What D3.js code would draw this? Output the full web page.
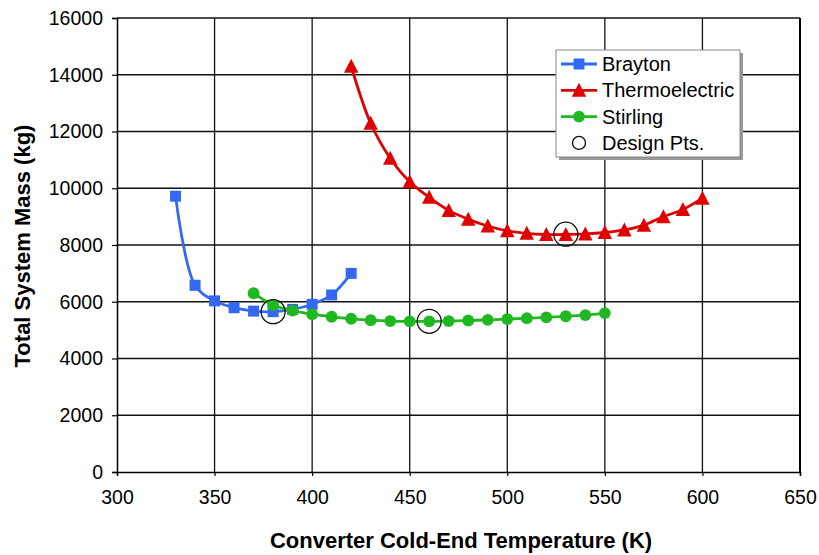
<!DOCTYPE html>
<html>
<head>
<meta charset="utf-8">
<script src="https://cdn.jsdelivr.net/npm/d3@7"></script>
<style>
  body { margin: 0; background: #fff; }
  text { font-family: "Liberation Sans", Arial, sans-serif; }
</style>
</head>
<body>
<svg width="819" height="555"></svg>
<script>
const braytonT = [330, 340, 350, 360, 370, 380, 390, 400, 410, 420];
const braytonM = [9720, 6580, 6030, 5790, 5670, 5650, 5730, 5910, 6240, 7000];

const thermoT = [420, 430, 440, 450, 460, 470, 480, 490, 500, 510, 520, 530, 540, 550, 560, 570, 580, 590, 600];
const thermoM = [14300, 12290, 11060, 10230, 9680, 9220, 8910, 8670, 8500, 8410, 8370, 8370, 8390, 8440, 8530, 8700, 9000, 9250, 9650];

const stirlingT = [370, 380, 390, 400, 410, 420, 430, 440, 450, 460, 470, 480, 490, 500, 510, 520, 530, 540, 550];
const stirlingM = [6300, 5880, 5690, 5560, 5470, 5400, 5350, 5320, 5310, 5310, 5320, 5340, 5360, 5390, 5420, 5450, 5490, 5530, 5600];

const designT = [380, 460, 530];
const designM = [5650, 5310, 8380];

const xTicks = [300, 350, 400, 450, 500, 550, 600, 650];
const yTicks = [0, 2000, 4000, 6000, 8000, 10000, 12000, 14000, 16000];

const svg = d3.select("svg");
const pLeft = 117, pRight = 800, pTop = 18, pBottom = 472;

var x = d3.scaleLinear().domain([300, 650]).range([pLeft, pRight]);
var y = d3.scaleLinear().domain([0, 16000]).range([pBottom, pTop]);

// grid
svg.append("g").selectAll("line").data(xTicks.slice(1)).enter().append("line")
  .attr("x1", d => x(d)).attr("x2", d => x(d)).attr("y1", pTop).attr("y2", pBottom)
  .attr("stroke", "#111").attr("stroke-width", 1.3);
svg.append("g").selectAll("line").data(yTicks.slice(1)).enter().append("line")
  .attr("x1", pLeft).attr("x2", pRight).attr("y1", d => y(d)).attr("y2", d => y(d))
  .attr("stroke", "#111").attr("stroke-width", 1.3);
svg.append("line").attr("x1", pRight).attr("x2", pRight).attr("y1", pTop).attr("y2", pBottom)
  .attr("stroke", "#000").attr("stroke-width", 2);

// axes
var y_axis = d3.axisLeft(y).tickValues(yTicks).tickSize(5).tickPadding(9).tickFormat(d3.format("d"));
var gy = svg.append("g").attr("transform", "translate(" + pLeft + ",0)").call(y_axis);
var x_axis = d3.axisBottom(x).tickValues(xTicks).tickSize(4).tickPadding(14).tickFormat(d3.format("d"));
var gx = svg.append("g").attr("transform", "translate(0," + pBottom + ")").call(x_axis);
[gx, gy].forEach(g => {
  g.select(".domain").attr("stroke", "#000").attr("stroke-width", 1.5);
  g.selectAll(".tick line").attr("stroke", "#000").attr("stroke-width", 1.2);
  g.selectAll("text").attr("font-size", 19.5).attr("fill", "#000")
    .style("font-family", "'Liberation Sans', Arial, sans-serif");
});
gy.selectAll("text").attr("x", -14);

// axis titles
svg.append("text").attr("transform", "translate(461,548)")
  .attr("text-anchor", "middle").attr("font-size", 22).attr("font-weight", "bold")
  .text("Converter Cold-End Temperature (K)");
svg.append("text").attr("transform", "translate(30,246) rotate(-90)")
  .attr("text-anchor", "middle").attr("font-size", 22).attr("font-weight", "bold")
  .text("Total System Mass (kg)");

const blue = "#3468f2", red = "#e00000", green = "#20b820";

function series(T, M, color, marker) {
  const pts = T.map((t, i) => [t, M[i]]);
  svg.append("path").datum(pts)
    .attr("d", d3.line().x(d => x(d[0])).y(d => y(d[1])).curve(d3.curveCatmullRom.alpha(0.5)))
    .attr("fill", "none").attr("stroke", color).attr("stroke-width", 2.8);
  svg.append("g").selectAll("path").data(pts).enter().append("path")
    .attr("transform", d => "translate(" + x(d[0]) + "," + y(d[1]) + ")")
    .attr("d", marker).attr("fill", color);
}
const sq = d3.symbol().type(d3.symbolSquare).size(121)();
const tri = "M0,-7.5L7.2,6.5L-7.2,6.5Z";
const circ = d3.symbol().type(d3.symbolCircle).size(110)();

series(braytonT, braytonM, blue, sq);
series(stirlingT, stirlingM, green, circ);
series(thermoT, thermoM, red, tri);

svg.append("g").selectAll("circle").data(designT).enter().append("circle")
  .attr("cx", d => x(d)).attr("cy", (d, i) => y(designM[i])).attr("r", 12)
  .attr("fill", "none").attr("stroke", "#111").attr("stroke-width", 1.3);

// legend
const lg = svg.append("g");
lg.append("rect").attr("x", 559).attr("y", 53).attr("width", 184).attr("height", 107).attr("fill", "#999");
lg.append("rect").attr("x", 556).attr("y", 50).attr("width", 184).attr("height", 107)
  .attr("fill", "#fff").attr("stroke", "#888").attr("stroke-width", 1);
const items = [
  {name: "Brayton", color: blue, m: sq},
  {name: "Thermoelectric", color: red, m: tri},
  {name: "Stirling", color: green, m: circ},
  {name: "Design Pts.", color: null, m: null}
];
items.forEach((it, i) => {
  const cy = 64 + i * 26.3;
  if (it.color) {
    lg.append("line").attr("x1", 561).attr("x2", 597).attr("y1", cy).attr("y2", cy)
      .attr("stroke", it.color).attr("stroke-width", 2.8);
    lg.append("path").attr("transform", "translate(579," + cy + ")").attr("d", it.m).attr("fill", it.color);
  } else {
    lg.append("circle").attr("cx", 579).attr("cy", cy).attr("r", 6.5)
      .attr("fill", "none").attr("stroke", "#111").attr("stroke-width", 1.3);
  }
  lg.append("text").attr("x", 602).attr("y", cy + 7)
    .attr("font-size", 20).attr("fill", "#000").text(it.name);
});
</script>
</body>
</html>
